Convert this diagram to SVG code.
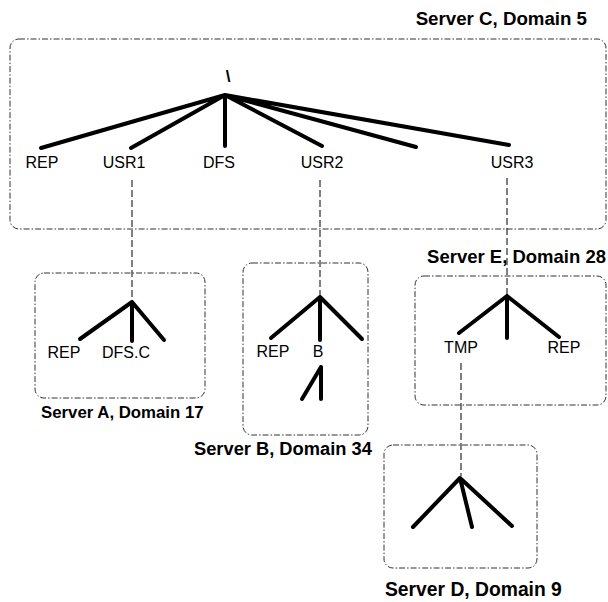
<svg xmlns="http://www.w3.org/2000/svg" width="608" height="602" viewBox="0 0 608 602">
<style>
.box{fill:none;stroke:#333;stroke-width:1;stroke-dasharray:6 2 1.5 2}
.leg{stroke:#000;stroke-width:4;stroke-linecap:round;fill:none}
.conn{stroke:#000;stroke-width:1;stroke-dasharray:7 3;fill:none}
.lbl{font-family:"Liberation Sans",Arial,sans-serif;font-size:16px;fill:#000;text-anchor:middle}
.title{font-family:"Liberation Sans",Arial,sans-serif;font-size:18px;font-weight:bold;fill:#000}
</style>
<rect width="608" height="602" fill="#fff"/>
<g id="serverC">
<rect class="box" x="10" y="39" width="596" height="190" rx="9"/>
<text class="title" x="587" y="25" text-anchor="end" style="font-size:18.7px">Server C, Domain 5</text>
<text class="lbl" x="228" y="82" style="font-weight:bold;font-size:17px">\</text>
<path class="leg" d="M225 95 L41 148 M225 95 L131 148 M225 95 L225 146 M225 95 L322 146 M225 95 L416 147 M225 95 L509 145"/>
<text class="lbl" x="42" y="168">REP</text>
<text class="lbl" x="124" y="168">USR1</text>
<text class="lbl" x="219" y="168">DFS</text>
<text class="lbl" x="322" y="168">USR2</text>
<text class="lbl" x="512" y="168">USR3</text>
</g>
<g id="serverA">
<rect class="box" x="35" y="273" width="170" height="125" rx="9"/>
<text class="title" x="41" y="418" style="font-size:16.8px">Server A, Domain 17</text>
<path class="leg" d="M132 302 L80 339 M132 302 L132 341 M132 302 L164 340"/>
<text class="lbl" x="64" y="358">REP</text>
<text class="lbl" x="126" y="358">DFS.C</text>
</g>
<g id="serverB">
<rect class="box" x="243" y="263" width="125" height="172" rx="9"/>
<text class="title" x="194" y="455" style="font-size:18.3px">Server B, Domain 34</text>
<path class="leg" d="M320 297 L271 338 M320 297 L320 340 M320 297 L362 339 M321 367 L302 399 M321 367 L321 399"/>
<text class="lbl" x="273" y="357">REP</text>
<text class="lbl" x="318" y="357">B</text>
</g>
<g id="serverE">
<rect class="box" x="415" y="276" width="191" height="129" rx="9"/>
<text class="title" x="606" y="263" text-anchor="end" style="font-size:18.5px">Server E, Domain 28</text>
<path class="leg" d="M507 296 L459 333 M507 296 L507 338 M507 296 L559 337"/>
<text class="lbl" x="461" y="353">TMP</text>
<text class="lbl" x="564" y="353">REP</text>
</g>
<g id="serverD">
<rect class="box" x="384" y="445" width="153" height="123" rx="9"/>
<text class="title" x="385" y="596" style="font-size:19.3px">Server D, Domain 9</text>
<path class="leg" d="M460 478 L413 527 M460 478 L472 527 M460 478 L512 526"/>
</g>
<g id="connectors">
<line class="conn" x1="132" y1="180" x2="132" y2="300"/>
<line class="conn" x1="320" y1="180" x2="320" y2="295"/>
<line class="conn" x1="507" y1="178" x2="507" y2="294"/>
<line class="conn" x1="461" y1="363" x2="461" y2="476"/>
</g>
</svg>
